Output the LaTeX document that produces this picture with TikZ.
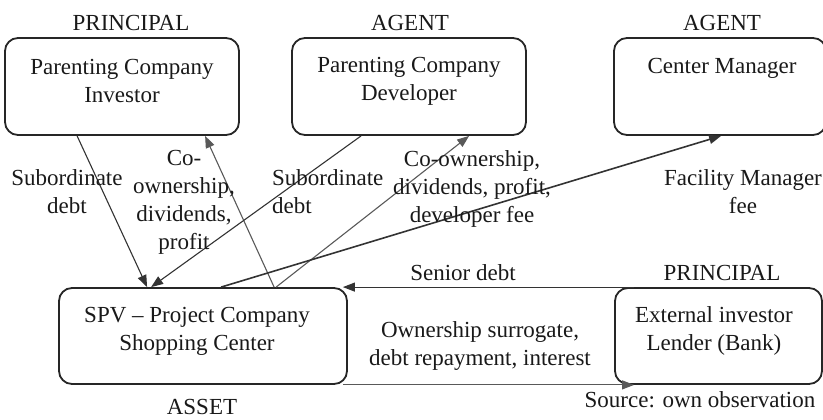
\documentclass[tikz,border=0pt]{standalone}
\usepackage{fontspec}
\setmainfont{Liberation Serif}
\usetikzlibrary{arrows.meta,calc}
\begin{document}
\begin{tikzpicture}[x=1pt,y=-1pt,
  box/.style={draw=black!85, line width=1.8pt, rounded corners=13pt, inner sep=0pt, minimum height=97pt},
  txt/.style={align=center, inner sep=0pt, text=black!90, font=\fontsize{23}{28}\selectfont},
  arr/.style={draw=black!80, line width=1.1pt, -{Triangle[length=12pt,width=9pt]}},
  arrg/.style={arr, draw=black!65, -{Triangle[length=12pt,width=9pt,fill=black!65]}},
  arrb/.style={arr, line width=1.6pt}]
\useasboundingbox (0,0) rectangle (823,420);
% boxes
\node[box, minimum width=234pt] (inv) at (122,86.5) {};
\node[box, minimum width=234pt] (dev) at (409,86.5) {};
\node[box, minimum width=212pt] (cm) at (720,86.5) {};
\node[box, minimum width=288pt, minimum height=96pt] (spv) at (203,336) {};
\node[box, minimum width=207pt, minimum height=96pt] (lend) at (718.5,336) {};
% box texts
\node[txt] (invt) at (122,81) {Parenting Company\\Investor};
\node[txt] (devt) at (409,81) {Parenting Company\\Developer};
\node[txt] (cmt) at (722,68) {Center Manager};
\node[txt] (spvt) at (197,331) {SPV -- Project Company\\Shopping Center};
\node[txt] (lendt) at (714,331) {External investor\\Lender (Bank)};
% role labels
\node[txt] (r1) at (131,23) {PRINCIPAL};
\node[txt] (r2) at (410,23) {AGENT};
\node[txt] (r3) at (722,23) {AGENT};
\node[txt] (r4) at (722,273) {PRINCIPAL};
\node[txt] (r5) at (202,407) {ASSET};
\node[txt] (src) at (700,400) {Source: own observation};
% connectors
\draw[arr] ($(inv.south west)+(73,0)$) -- ($(spv.north west)+(89,0)$);
\draw[arrg] ($(spv.north west)+(216,0)$) -- ($(inv.south west)+(201,0)$);
\draw[arr] ($(dev.south west)+(70,0)$) -- ($(spv.north west)+(93,0)$);
\draw[arrg] ($(spv.north west)+(218,0)$) -- ($(dev.south west)+(178,0)$);
\draw[arrb] ($(spv.north west)+(163,0)$) -- ($(cm.south west)+(108,0)$);
\draw[arr] ($(lend.north west)+(20,0)$) -- ($(spv.north east)+(-5,0)$);
\draw[arrg] ($(spv.south east)+(-5,0)$) -- ($(lend.south west)+(20,0)$);
% connector labels
\node[txt] (l1) at (67,192) {Subordinate\\debt};
\node[txt] (l2) at (184,202) {Co-\\ownership,\\dividends,\\profit};
\node[txt, anchor=west, align=left] (l3) at (272,192) {Subordinate\\debt};
\node[txt] (l4) at (472,189) {Co-ownership,\\dividends, profit,\\developer fee};
\node[txt] (l5) at (743,192) {Facility Manager\\fee};
\node[txt] (l6) at (463,273) {Senior debt};
\node[txt] (l7) at (480,346) {Ownership surrogate,\\debt repayment, interest};
\end{tikzpicture}
\end{document}
